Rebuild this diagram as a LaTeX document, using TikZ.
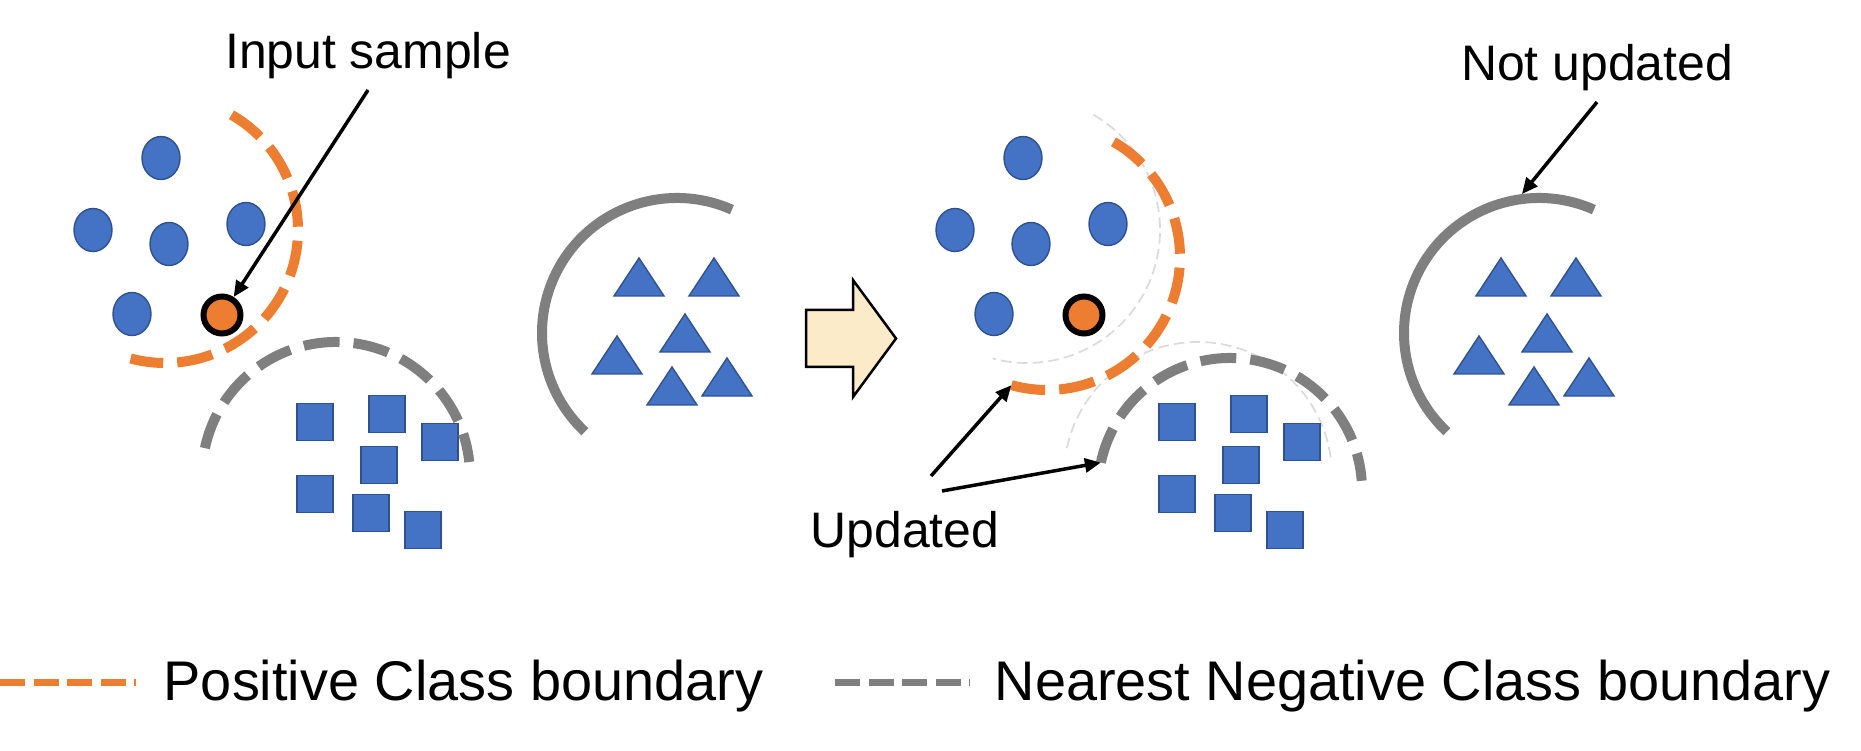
\documentclass[tikz,border=0pt]{standalone}
\usepackage{fontspec}
\setmainfont{Liberation Sans}
\usepackage{xcolor}
\usetikzlibrary{arrows.meta,shapes.geometric}
\definecolor{dotblue}{HTML}{4472C4}
\definecolor{dotedge}{HTML}{2F528F}
\definecolor{posorange}{HTML}{ED7D31}
\definecolor{neggray}{HTML}{7F7F7F}
\definecolor{cream}{HTML}{FCEBC8}
\tikzset{
  dot/.style={
    ellipse, draw=dotedge, line width=0.4pt, fill=dotblue, inner sep=0pt,
    minimum width=0.38cm, minimum height=0.43cm
  },
  sample/.style={
    circle, draw=black, line width=0.06cm, fill=posorange, inner sep=0pt,
    minimum size=0.37cm
  },
  sq/.style={
    rectangle, draw=dotedge, line width=0.4pt, fill=dotblue, inner sep=0pt,
    minimum width=0.36cm, minimum height=0.37cm
  },
  tri/.pic={
    \path[draw=dotedge, line width=0.4pt, fill=dotblue]
      (-0.25,0) -- (0.25,0) -- (0,0.38) -- cycle;
  },
  posb/.style={draw=posorange, line width=0.10cm, dash pattern=on 0.36cm off 0.14cm},
  negb/.style={draw=neggray, line width=0.10cm, dash pattern=on 0.36cm off 0.14cm},
  negsolid/.style={draw=neggray, line width=0.10cm},
  oldb/.style={draw=gray!28, line width=0.5pt, dash pattern=on 3pt off 1.5pt},
  posleg/.style={draw=posorange, line width=0.07cm, dash pattern=on 0.25cm off 0.085cm},
  negleg/.style={draw=neggray, line width=0.07cm, dash pattern=on 0.25cm off 0.085cm},
  arrow/.style={-{Triangle[length=0.16cm, width=0.14cm]}, line width=0.035cm, black},
  lbl/.style={font=\fontsize{14.2}{17}\selectfont, inner sep=0.1cm, anchor=base},
  legtxt/.style={font=\fontsize{15.9}{19}\selectfont, inner sep=0pt, anchor=base west},
}

\begin{document}
\begin{tikzpicture}
    \useasboundingbox (0,0) rectangle (18.61,7.50);

    % arc centres
    \coordinate (pc1) at (1.65,5.20);
    \coordinate (nc1) at (3.36,2.74);
    \coordinate (sc1) at (6.77,4.17);
    \coordinate (po2) at (10.27,5.20);
    \coordinate (no2) at (11.98,2.74);
    \coordinate (pc2) at (10.47,4.93);
    \coordinate (nc2) at (12.30,2.60);
    \coordinate (sc2) at (15.39,4.17);

    % before the update
    \node[dot] (pa1) at (1.61,5.92) {};
    \node[dot] (pa2) at (0.93,5.20) {};
    \node[dot] (pa3) at (1.69,5.06) {};
    \node[dot] (pa4) at (2.46,5.26) {};
    \node[dot] (pa5) at (1.32,4.36) {};
    \node[sample] (in1) at (2.22,4.35) {};

    \node[sq] (na1) at (3.15,3.28) {};
    \node[sq] (na2) at (3.87,3.36) {};
    \node[sq] (na3) at (4.40,3.08) {};
    \node[sq] (na4) at (3.79,2.85) {};
    \node[sq] (na5) at (3.15,2.56) {};
    \node[sq] (na6) at (3.71,2.37) {};
    \node[sq] (na7) at (4.23,2.20) {};

    \pic (ta1) at (6.39,4.54) {tri};
    \pic (ta2) at (7.14,4.54) {tri};
    \pic (ta3) at (6.85,3.98) {tri};
    \pic (ta4) at (6.17,3.76) {tri};
    \pic (ta5) at (6.72,3.45) {tri};
    \pic (ta6) at (7.27,3.54) {tri};

    \draw[posb] ([shift={(60:1.33)}]pc1) arc[start angle=60, end angle=-105, radius=1.33];
    \draw[negb] ([shift={(168:1.34)}]nc1) arc[start angle=168, end angle=6, radius=1.34];
    \draw[negsolid] ([shift={(66:1.35)}]sc1) arc[start angle=66, end angle=227, radius=1.35];

    % block arrow
    \draw[line width=0.025cm, fill=cream] (8.06,4.40) -- (8.53,4.40) -- (8.53,4.70)
      -- (8.96,4.115) -- (8.53,3.53) -- (8.53,3.83) -- (8.06,3.83) -- cycle;

    % after the update
    \draw[oldb] ([shift={(60:1.33)}]po2) arc[start angle=60, end angle=-105, radius=1.33];
    \draw[oldb] ([shift={(168:1.34)}]no2) arc[start angle=168, end angle=6, radius=1.34];

    \node[dot] (pb1) at (10.23,5.92) {};
    \node[dot] (pb2) at (9.55,5.20) {};
    \node[dot] (pb3) at (10.31,5.06) {};
    \node[dot] (pb4) at (11.08,5.26) {};
    \node[dot] (pb5) at (9.94,4.36) {};
    \node[sample] (in2) at (10.84,4.35) {};

    \node[sq] (nb1) at (11.77,3.28) {};
    \node[sq] (nb2) at (12.49,3.36) {};
    \node[sq] (nb3) at (13.02,3.08) {};
    \node[sq] (nb4) at (12.41,2.85) {};
    \node[sq] (nb5) at (11.77,2.56) {};
    \node[sq] (nb6) at (12.33,2.37) {};
    \node[sq] (nb7) at (12.85,2.20) {};

    \pic (tb1) at (15.01,4.54) {tri};
    \pic (tb2) at (15.76,4.54) {tri};
    \pic (tb3) at (15.47,3.98) {tri};
    \pic (tb4) at (14.79,3.76) {tri};
    \pic (tb5) at (15.34,3.45) {tri};
    \pic (tb6) at (15.89,3.54) {tri};

    \draw[posb] ([shift={(60:1.33)}]pc2) arc[start angle=60, end angle=-105.5, radius=1.33]
      coordinate (pend);
    \draw[negb] ([shift={(168:1.32)}]nc2) coordinate (nstart)
      arc[start angle=168, end angle=4, radius=1.32];
    \draw[negsolid] ([shift={(66:1.35)}]sc2) arc[start angle=66, end angle=227, radius=1.35];
    \coordinate (nutop) at ([shift={(97:1.40)}]sc2);

    % labels
    \node[lbl] (inlab) at (3.68,6.81) {Input sample};
    \node[lbl] (nulab) at (15.97,6.69) {Not updated};
    \node[lbl] (uplab) at (9.05,2.03) {Updated};
    \coordinate (upa) at (9.31,2.74);
    \coordinate (upb) at (9.42,2.59);

    \draw[arrow] (inlab.south) -- (in1);
    \draw[arrow] (nulab.south) -- (nutop);
    \draw[arrow] (upa) -- (pend);
    \draw[arrow] (upb) -- (nstart);

    % legend
    \draw[posleg] (0,0.68) -- (1.36,0.68);
    \node[legtxt] (lgpos) at (1.63,0.50) {Positive Class boundary};
    \draw[negleg] (8.35,0.68) -- (9.70,0.68);
    \node[legtxt] (lgneg) at (9.94,0.50) {Nearest Negative Class boundary};
\end{tikzpicture}
\end{document}
